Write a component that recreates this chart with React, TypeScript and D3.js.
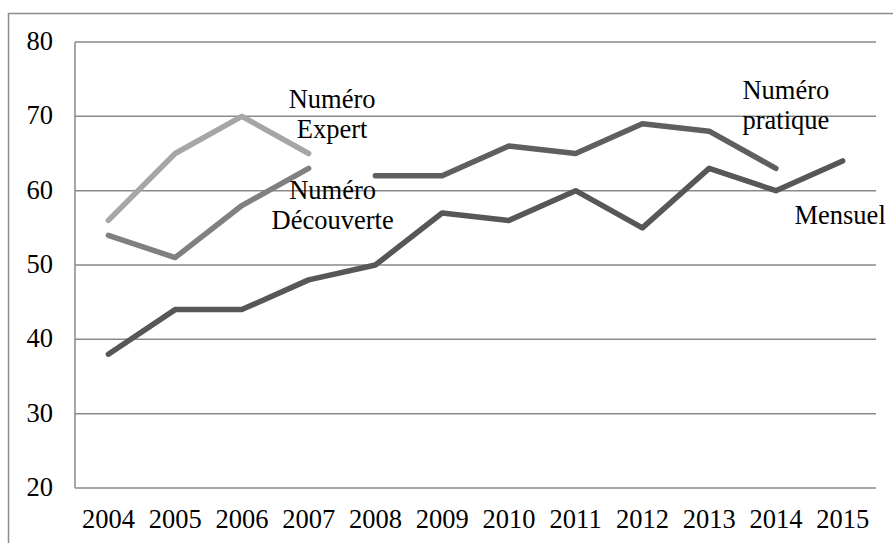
import React from "react";
import * as d3 from "d3";

const years = ["2004", "2005", "2006", "2007", "2008", "2009", "2010", "2011", "2012", "2013", "2014", "2015"];
const yTicks = [20, 30, 40, 50, 60, 70, 80];

const mensuel: (number | null)[] = [38, 44, 44, 48, 50, 57, 56, 60, 55, 63, 60, 64];
const numeroPratique: (number | null)[] = [null, null, null, null, 62, 62, 66, 65, 69, 68, 63, null];
const numeroDecouverte: (number | null)[] = [54, 51, 58, 63, null, null, null, null, null, null, null, null];
const numeroExpert: (number | null)[] = [56, 65, 70, 65, null, null, null, null, null, null, null, null];

const seriesNames = ["Numéro Expert", "Numéro Découverte", "Numéro pratique", "Mensuel"];

const W = 893;
const H = 543;
const FONT = "'Liberation Serif', 'Times New Roman', serif";
const FS = 26.5;

export default function App() {
  const x = d3.scaleBand<string>().domain(years).range([75, 876]).padding(0);
  const y = d3.scaleLinear().domain([20, 80]).range([488, 42]);
  const cx = (i: number) => (x(years[i]) as number) + x.bandwidth() / 2;

  const line = d3
    .line<number | null>()
    .defined((d) => d !== null)
    .x((_, i) => cx(i))
    .y((d) => y(d as number));

  const series = [
    { name: seriesNames[0], values: numeroExpert, color: "#a6a6a6" },
    { name: seriesNames[1], values: numeroDecouverte, color: "#808080" },
    { name: seriesNames[2], values: numeroPratique, color: "#5f5f5f" },
    { name: seriesNames[3], values: mensuel, color: "#575757" },
  ];

  // label anchor points, each tied to a data point of its series
  const labels = [
    { lines: ["Numéro", "Expert"], x: cx(3) + 23.5, y: y(numeroExpert[2] as number) - 8 },
    { lines: ["Numéro", "Découverte"], x: cx(3) + 24, y: y(numeroDecouverte[3] as number) + 31 },
    { lines: ["Numéro", "pratique"], x: cx(10) + 10, y: y(numeroPratique[8] as number) - 25 },
    { lines: ["Mensuel"], x: cx(11) - 2.5, y: y(mensuel[10] as number) + 33 },
  ];

  return (
    <svg
      width={W}
      height={H}
      style={{ position: "absolute", left: 0, top: 0, background: "#fff", display: "block" }}
      fontFamily={FONT}
    >
      {/* chart frame */}
      <line x1={8} x2={W} y1={13.5} y2={13.5} stroke="#8c8c8c" strokeWidth={1.5} />
      <line x1={8.5} x2={8.5} y1={13} y2={H} stroke="#8c8c8c" strokeWidth={1.5} />

      {/* gridlines */}
      {yTicks.map((t) => (
        <line key={t} x1={75} x2={876} y1={y(t)} y2={y(t)} stroke="#8a8a8a" strokeWidth={1.5} />
      ))}
      <line x1={75} x2={75} y1={y(80)} y2={y(20)} stroke="#8a8a8a" strokeWidth={1.5} />

      {/* y tick labels */}
      {yTicks.map((t) => (
        <text key={t} x={53} y={y(t) + 8} textAnchor="end" fontSize={FS} fill="#000">
          {t}
        </text>
      ))}

      {/* x tick labels */}
      {years.map((yr, i) => (
        <text key={yr} x={cx(i)} y={528} textAnchor="middle" fontSize={FS} fill="#000">
          {yr}
        </text>
      ))}

      {/* series */}
      {series.map((s) => (
        <path
          key={s.name}
          d={line(s.values) || ""}
          fill="none"
          stroke={s.color}
          strokeWidth={5.5}
          strokeLinecap="round"
          strokeLinejoin="round"
        />
      ))}

      {/* series labels */}
      {labels.map((l, k) => (
        <text key={k} x={l.x} y={l.y} textAnchor="middle" fontSize={FS} fill="#000">
          {l.lines.map((t, j) => (
            <tspan key={j} x={l.x} dy={j === 0 ? 0 : 30}>
              {t}
            </tspan>
          ))}
        </text>
      ))}
    </svg>
  );
}
